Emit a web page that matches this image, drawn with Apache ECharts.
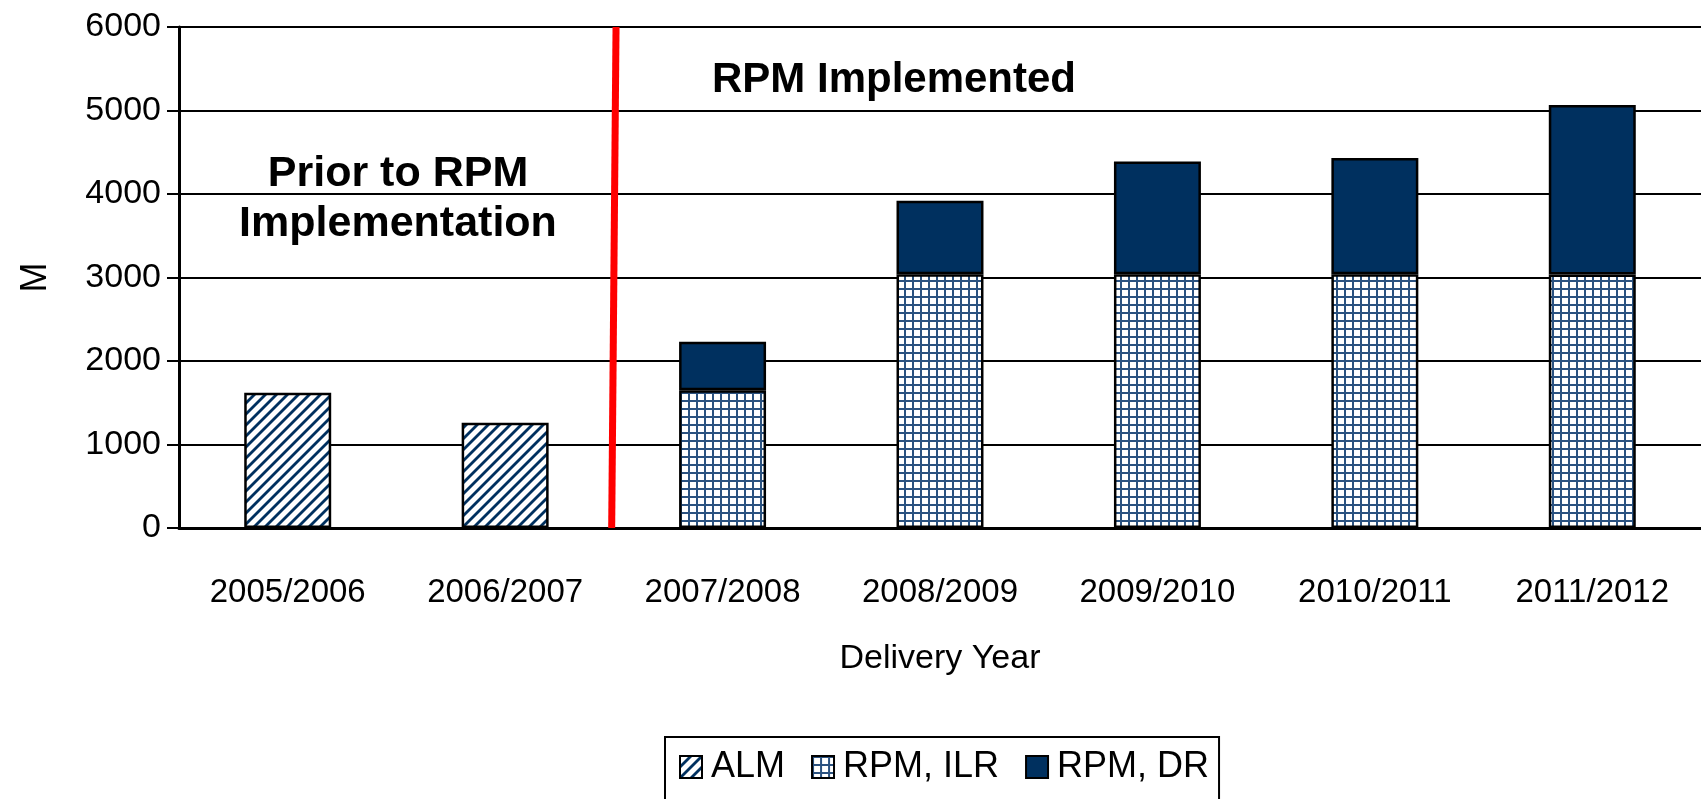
<!DOCTYPE html>
<html><head><meta charset="utf-8">
<script src="https://cdn.jsdelivr.net/npm/echarts@6/dist/echarts.min.js"></script>
<style>html,body{margin:0;padding:0;background:#fff}#c{width:1701px;height:799px}</style>
</head><body><div id="c"></div>
<script>
const categories = ['2005/2006','2006/2007','2007/2008','2008/2009','2009/2010','2010/2011','2011/2012'];
const alm = [1620, 1260, null, null, null, null, null];
const ilr = [null, null, 1650, 3040, 3040, 3040, 3035];
const dr  = [null, null, 580, 880, 1350, 1390, 2030];
const yTicks = [0, 1000, 2000, 3000, 4000, 5000, 6000];
const divider = [[2.01, 6000], [1.99, 0]];

const NAVY = '#00305f';
function stripe() {
  const c = document.createElement('canvas'); c.width = 11; c.height = 11;
  const g = c.getContext('2d'); g.fillStyle = '#fff'; g.fillRect(0,0,11,11);
  g.strokeStyle = NAVY; g.lineWidth = 2.8;
  for (let k = -1; k <= 1; k++) { g.beginPath(); g.moveTo(-2 + k*11, 13); g.lineTo(13 + k*11, -2); g.stroke(); }
  return c;
}
function grid() {
  const c = document.createElement('canvas'); c.width = 8; c.height = 8;
  const g = c.getContext('2d'); g.fillStyle = '#fff'; g.fillRect(0,0,8,8);
  g.fillStyle = '#2b5280'; g.fillRect(0,0,2,8); g.fillRect(0,0,8,2);
  return c;
}
const pStripe = {image: stripe(), repeat: 'repeat'};
const pGrid = {image: grid(), repeat: 'repeat'};
const FONT = 'Liberation Sans';
const chart = echarts.init(document.getElementById('c'));
const barCommon = {type: 'bar', stack: 'a', barWidth: '40%', xAxisIndex: 0, yAxisIndex: 0};
chart.setOption({
  animation: false,
  textStyle: {fontFamily: FONT},
  grid: {left: 179, right: 0, top: 27, bottom: 271, containLabel: false},
  legend: {
    top: 737, left: 665, itemWidth: 22, itemHeight: 22, itemGap: 26,
    borderColor: '#000', borderWidth: 2, padding: [12, 10, 40, 14],
    textStyle: {fontSize: 36, fontFamily: FONT, color: '#000', padding: [0, 0, 0, 4]},
    icon: 'rect',
    data: [
      {name: 'ALM', itemStyle: {color: pStripe, borderColor: '#000', borderWidth: 2}},
      {name: 'RPM, ILR', itemStyle: {color: pGrid, borderColor: '#000', borderWidth: 2}},
      {name: 'RPM, DR', itemStyle: {color: NAVY, borderColor: '#000', borderWidth: 2}}
    ]
  },
  xAxis: [{
    type: 'category', data: categories,
    name: 'Delivery Year', nameLocation: 'middle', nameGap: 114,
    nameTextStyle: {fontSize: 34, color: '#000', fontFamily: FONT},
    axisLine: {lineStyle: {color: '#000', width: 3}},
    axisTick: {length: 12, lineStyle: {color: '#000', width: 2}},
    axisLabel: {fontSize: 33, color: '#000', margin: 48, fontFamily: FONT}
  }, {
    type: 'value', min: 0, max: 7, show: false
  }],
  yAxis: {
    type: 'value', min: yTicks[0], max: yTicks[yTicks.length-1], interval: 1000,
    name: 'M', nameLocation: 'middle', nameGap: 125, nameRotate: 90,
    nameTextStyle: {fontSize: 36, color: '#000', fontFamily: FONT},
    axisLine: {show: true, lineStyle: {color: '#000', width: 3}},
    axisTick: {show: true, length: 12, lineStyle: {color: '#000', width: 2}},
    axisLabel: {fontSize: 34, color: '#000', margin: 18, fontFamily: FONT, formatter: function (v) { return String(v); }},
    splitLine: {lineStyle: {color: '#000', width: 2}}
  },
  series: [
    Object.assign({name: 'ALM', data: alm, itemStyle: {color: pStripe, borderColor: '#000', borderWidth: 2.5}}, barCommon),
    Object.assign({name: 'RPM, ILR', data: ilr, itemStyle: {color: pGrid, borderColor: '#000', borderWidth: 2.5}}, barCommon),
    Object.assign({name: 'RPM, DR', data: dr, itemStyle: {color: NAVY, borderColor: '#000', borderWidth: 2.5}}, barCommon),
    {type: 'line', xAxisIndex: 1, yAxisIndex: 0, data: divider, symbol: 'none', silent: true,
     lineStyle: {color: '#ff0000', width: 7}, z: 5}
  ],
  graphic: [
    {type: 'text', style: {text: 'RPM Implemented', x: 894, y: 80, align: 'center', verticalAlign: 'middle', font: 'bold 42px ' + FONT, fill: '#000'}},
    {type: 'text', style: {text: 'Prior to RPM\nImplementation', x: 398, y: 199, align: 'center', verticalAlign: 'middle', lineHeight: 50, font: 'bold 43px ' + FONT, fill: '#000'}}
  ]
});
</script></body></html>
